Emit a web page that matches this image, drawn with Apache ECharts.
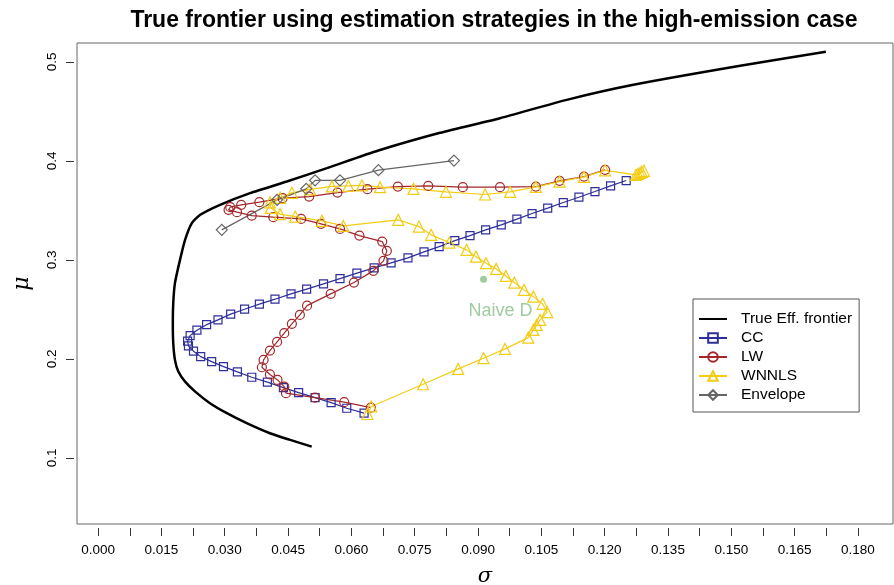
<!DOCTYPE html>
<html>
<head>
<meta charset="utf-8">
<script src="https://cdn.jsdelivr.net/npm/echarts@6/dist/echarts.min.js"></script>
<style>
html, body { margin: 0; padding: 0; background: #fff; }
#chart { width: 894px; height: 585px; }
</style>
</head>
<body>
<div id="chart"></div>
<script>
// x tick marks (every 0.0075) and labelled ticks (every 0.015)
const xTicks = [0, 0.0075, 0.015, 0.0225, 0.03, 0.0375, 0.045, 0.0525, 0.06, 0.0675, 0.075, 0.0825, 0.09,
    0.0975, 0.105, 0.1125, 0.12, 0.1275, 0.135, 0.1425, 0.15, 0.1575, 0.165, 0.1725, 0.18]
const xLabels = [0, 0.015, 0.03, 0.045, 0.06, 0.075, 0.09, 0.105, 0.12, 0.135, 0.15, 0.165, 0.18]
const yLabels = [0.1, 0.2, 0.3, 0.4, 0.5]

// [sigma, mu]
const frontier = [
    [0.0506, 0.1114], [0.0455, 0.1182], [0.0407, 0.1249], [0.0352, 0.1351], [0.0305, 0.1452], [0.0265, 0.1553],
    [0.0230, 0.1670], [0.0206, 0.1771], [0.0190, 0.1872], [0.0182, 0.1990], [0.0178, 0.2159], [0.0177, 0.2361],
    [0.0178, 0.2563], [0.0182, 0.2765], [0.0194, 0.3000], [0.0206, 0.3202], [0.0222, 0.3371], [0.0242, 0.3455],
    [0.0289, 0.3556], [0.0360, 0.3674], [0.0447, 0.3791], [0.0542, 0.3926], [0.0664, 0.4104], [0.0810, 0.4283],
    [0.0952, 0.4431], [0.1110, 0.4616], [0.1268, 0.4768], [0.1521, 0.4960], [0.1724, 0.5101]
]
const cc = [
    [0.0630, 0.1452], [0.0589, 0.1502], [0.0552, 0.1559], [0.0514, 0.1609], [0.0475, 0.1660], [0.0439, 0.1710],
    [0.0401, 0.1765], [0.0364, 0.1815], [0.0330, 0.1869], [0.0297, 0.1922], [0.0269, 0.1973], [0.0243, 0.2023],
    [0.0226, 0.2078], [0.0214, 0.2131], [0.0212, 0.2179], [0.0218, 0.2235], [0.0234, 0.2290], [0.0257, 0.2346],
    [0.0284, 0.2394], [0.0314, 0.2452], [0.0347, 0.2502], [0.0382, 0.2553], [0.0419, 0.2603], [0.0457, 0.2657],
    [0.0494, 0.2704], [0.0534, 0.2758], [0.0573, 0.2811], [0.0613, 0.2866], [0.0654, 0.2919], [0.0694, 0.2970],
    [0.0734, 0.3020], [0.0772, 0.3081], [0.0808, 0.3134], [0.0845, 0.3195], [0.0881, 0.3245], [0.0918, 0.3303],
    [0.0955, 0.3354], [0.0992, 0.3411], [0.1028, 0.3468], [0.1065, 0.3522], [0.1102, 0.3579], [0.1139, 0.3633],
    [0.1177, 0.3690], [0.1214, 0.3747], [0.1251, 0.3801]
]
const lw = [
    [0.0646, 0.1508], [0.0583, 0.1563], [0.0514, 0.1609], [0.0445, 0.1654], [0.0441, 0.1720], [0.0425, 0.1788],
    [0.0407, 0.1843], [0.0388, 0.1916], [0.0392, 0.1990], [0.0407, 0.2084], [0.0424, 0.2172], [0.0441, 0.2260],
    [0.0459, 0.2354], [0.0478, 0.2444], [0.0495, 0.2538], [0.0551, 0.2657], [0.0606, 0.2771], [0.0652, 0.2889],
    [0.0676, 0.2990], [0.0684, 0.3091], [0.0673, 0.3185], [0.0619, 0.3245], [0.0573, 0.3313], [0.0528, 0.3364],
    [0.0481, 0.3414], [0.0415, 0.3431], [0.0364, 0.3447], [0.0329, 0.3482], [0.0309, 0.3505], [0.0313, 0.3532],
    [0.0339, 0.3556], [0.0382, 0.3583], [0.0437, 0.3623], [0.0500, 0.3639], [0.0567, 0.3680], [0.0638, 0.3714],
    [0.0710, 0.3740], [0.0782, 0.3747], [0.0864, 0.3734], [0.0952, 0.3734], [0.1037, 0.3740], [0.1093, 0.3798],
    [0.1151, 0.3841], [0.1201, 0.3909]
]
const wnnls = [
    [0.0638, 0.1444], [0.0647, 0.1520], [0.0770, 0.1744], [0.0853, 0.1899], [0.0913, 0.2007], [0.0964, 0.2101],
    [0.1019, 0.2215], [0.1031, 0.2293], [0.1039, 0.2343], [0.1047, 0.2394], [0.1064, 0.2472], [0.1053, 0.2556],
    [0.1031, 0.2629], [0.1009, 0.2697], [0.0986, 0.2771], [0.0966, 0.2838], [0.0943, 0.2909], [0.0919, 0.2967],
    [0.0895, 0.3033], [0.0873, 0.3101], [0.0832, 0.3175], [0.0789, 0.3253], [0.0760, 0.3336], [0.0711, 0.3404],
    [0.0581, 0.3343], [0.0530, 0.3394], [0.0467, 0.3437], [0.0431, 0.3462], [0.0409, 0.3525], [0.0407, 0.3581],
    [0.0431, 0.3626], [0.0459, 0.3677], [0.0502, 0.3712], [0.0554, 0.3742], [0.0593, 0.3747], [0.0625, 0.3753],
    [0.0668, 0.3734], [0.0747, 0.3717], [0.0824, 0.3687], [0.0917, 0.3660], [0.0976, 0.3687], [0.1037, 0.3737],
    [0.1093, 0.3791], [0.1151, 0.3838], [0.1201, 0.3904], [0.1274, 0.3859], [0.1279, 0.3869], [0.1284, 0.3879],
    [0.1288, 0.3889], [0.1293, 0.3899]
]
const envelope = [
    [0.0293, 0.3303], [0.0424, 0.3606], [0.0493, 0.3717], [0.0514, 0.3803], [0.0573, 0.3803], [0.0664, 0.3906],
    [0.0843, 0.4003]
]
const naive = [[0.0913, 0.2805]]

const font = 'Liberation Sans, Arial, sans-serif'
const chart = echarts.init(document.getElementById('chart'))

function pointSeries(name, data, symbol, size, color) {
    return {
        name: name,
        type: 'line',
        data: data,
        symbol: symbol,
        symbolSize: size,
        showAllSymbol: true,
        lineStyle: { color: color, width: 1.2 },
        itemStyle: { color: 'rgba(255,255,255,0)', borderColor: color, borderWidth: 1.2 },
        emphasis: { disabled: true },
        z: 3
    }
}

const option = {
    animation: false,
    backgroundColor: '#fff',
    title: {
        text: 'True frontier using estimation strategies in the high-emission case',
        left: 489,
        top: 4,
        textAlign: 'center',
        textStyle: { fontFamily: font, fontSize: 23, fontWeight: 'bold', color: '#000' }
    },
    grid: {
        show: true,
        left: 77,
        top: 43,
        right: 1,
        bottom: 61,
        outerBoundsMode: 'none',
        containLabel: false,
        borderColor: '#666',
        borderWidth: 1
    },
    legend: {
        orient: 'vertical',
        left: 693,
        top: 299,
        padding: [12, 7, 9, 5],
        itemWidth: 28,
        itemHeight: 12,
        itemGap: 3,
        borderColor: '#555',
        borderWidth: 1,
        textStyle: { fontFamily: font, fontSize: 15.5, color: '#000', padding: [0, 0, 0, 9] },
        data: ['True Eff. frontier', 'CC', 'LW', 'WNNLS', 'Envelope']
    },
    xAxis: {
        type: 'value',
        min: -0.005,
        max: 0.1883,
        offset: 4,
        name: 'σ',
        nameLocation: 'middle',
        nameGap: 38,
        nameTextStyle: { fontFamily: 'DejaVu Serif', fontStyle: 'italic', fontSize: 21, color: '#000' },
        axisLine: { show: false, onZero: false },
        splitLine: { show: false },
        axisTick: { show: true, length: 8, lineStyle: { color: '#333' }, customValues: xTicks },
        axisLabel: {
            margin: 15,
            fontFamily: font,
            fontSize: 13.5,
            color: '#000',
            customValues: xLabels,
            formatter: (v) => v.toFixed(3)
        }
    },
    yAxis: {
        type: 'value',
        min: 0.0333,
        max: 0.519,
        offset: 3,
        name: 'μ',
        nameLocation: 'middle',
        nameGap: 41,
        nameRotate: 90,
        nameTextStyle: { fontFamily: 'DejaVu Serif', fontStyle: 'italic', fontSize: 22, color: '#000' },
        axisLine: { show: false, onZero: false },
        splitLine: { show: false },
        axisTick: { show: true, length: 8, lineStyle: { color: '#333' }, customValues: yLabels },
        axisLabel: {
            margin: 15,
            rotate: 90,
            fontFamily: font,
            fontSize: 13.5,
            color: '#000',
            customValues: yLabels,
            formatter: (v) => v.toFixed(1)
        }
    },
    series: [
        {
            name: 'True Eff. frontier',
            type: 'line',
            data: frontier,
            symbol: 'none',
            smooth: 0.2,
            lineStyle: { color: '#000', width: 2.5 },
            itemStyle: { color: 'rgba(0,0,0,0)' },
            emphasis: { disabled: true },
            z: 2
        },
        pointSeries('CC', cc, 'rect', 8, '#2e2f9a'),
        pointSeries('LW', lw, 'circle', 9, '#a3272c'),
        pointSeries('WNNLS', wnnls, 'triangle', 11, '#f3cc16'),
        pointSeries('Envelope', envelope, 'diamond', 11, '#666666'),
        {
            name: 'Naive D',
            type: 'scatter',
            data: naive,
            symbol: 'circle',
            symbolSize: 7,
            itemStyle: { color: '#86bf88' },
            label: {
                show: true,
                position: 'bottom',
                distance: 19,
                offset: [17, 0],
                formatter: 'Naive D',
                fontFamily: font,
                fontSize: 18,
                color: '#86bf88'
            },
            emphasis: { disabled: true }
        }
    ]
}

chart.setOption(option)
</script>
</body>
</html>
